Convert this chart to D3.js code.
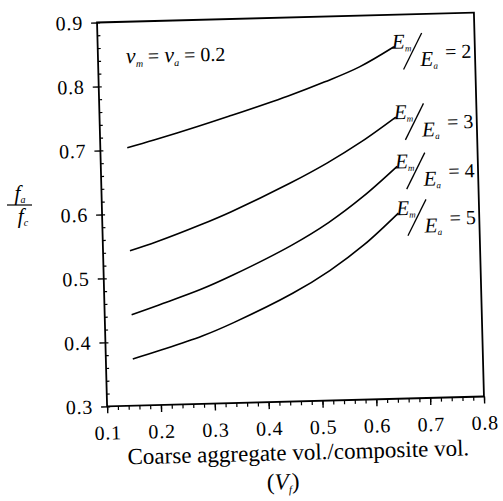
<!DOCTYPE html>
<html><head><meta charset="utf-8">
<script src="https://cdn.jsdelivr.net/npm/d3@7"></script>
<style>
body{margin:0;background:#fff}
svg{display:block}
</style></head><body>
<script>
// ---- data ----
const xTickValues = [0.1, 0.2, 0.3, 0.4, 0.5, 0.6, 0.7, 0.8];
const yTickValues = [0.3, 0.4, 0.5, 0.6, 0.7, 0.8, 0.9];
const volFraction = [0.15, 0.2, 0.28, 0.34, 0.45, 0.52, 0.585, 0.65];
const ratio2 = [0.703, 0.714, 0.733, 0.748, 0.777, 0.798, 0.820, 0.850];
const ratio3 = [0.542, 0.555, 0.579, 0.599, 0.641, 0.671, 0.703, 0.740];
const ratio4 = [0.442, 0.456, 0.479, 0.500, 0.544, 0.578, 0.617, 0.663];
const ratio5 = [0.373, 0.385, 0.406, 0.426, 0.469, 0.503, 0.542, 0.590];
const modulusRatios = ["2", "3", "4", "5"];
const seriesValues = [ratio2, ratio3, ratio4, ratio5];

// ---- layout ----
const FONT = '"Liberation Serif", "Times New Roman", serif';
const W = 503, H = 501;
const L = 102, R = 479, T = 17.5, B = 401.5;
const svg = d3.select("body").append("svg").attr("width", W).attr("height", H)
  .attr("font-family", FONT);
svg.append("rect").attr("width", W).attr("height", H).attr("fill", "#fff");
const g = svg.append("g").attr("transform", "rotate(-1.5,290.5,209.5)");

const x = d3.scaleLinear().domain([0.1, 0.8]).range([L, R]);
const y = d3.scaleLinear().domain([0.3, 0.9]).range([B, T]);

const xMinor = d3.range(0.1, 0.8001, 0.02).map(v => +v.toFixed(2));
const yMinor = d3.range(0.3, 0.9001, 0.02).map(v => +v.toFixed(2));

g.append("g").attr("transform", `translate(0,${B})`)
  .call(d3.axisBottom(x).tickValues(xMinor).tickSize(4).tickFormat(""))
  .call(a => a.select(".domain").remove())
  .selectAll("line").attr("stroke", "#000").attr("stroke-width", 1.2);

g.append("g").attr("transform", `translate(0,${B})`)
  .call(d3.axisBottom(x).tickValues(xTickValues).tickSize(7).tickPadding(12).tickFormat(d3.format(".1f")))
  .attr("font-family", FONT)
  .call(a => a.select(".domain").remove())
  .call(a => a.selectAll("line").attr("stroke", "#000").attr("stroke-width", 1.4))
  .call(a => a.selectAll("text").attr("font-size", 20).attr("letter-spacing", 0.8).attr("fill", "#000"));

g.append("g").attr("transform", `translate(${L},0)`)
  .call(d3.axisLeft(y).tickValues(yMinor).tickSize(-3).tickFormat(""))
  .call(a => a.select(".domain").remove())
  .selectAll("line").attr("stroke", "#000").attr("stroke-width", 1.2);

g.append("g").attr("transform", `translate(${L},0)`)
  .call(d3.axisLeft(y).tickValues(yTickValues).tickSize(6).tickPadding(8).tickFormat(d3.format(".1f")))
  .attr("font-family", FONT)
  .call(a => a.select(".domain").remove())
  .call(a => a.selectAll("line").attr("stroke", "#000").attr("stroke-width", 1.4))
  .call(a => a.selectAll("text").attr("font-size", 20).attr("letter-spacing", 0.8).attr("fill", "#000"));

// frame
g.append("rect").attr("x", L).attr("y", T).attr("width", R - L).attr("height", B - T)
  .attr("fill", "none").attr("stroke", "#000").attr("stroke-width", 1.8);

// curves + labels
const line = d3.line().x(d => x(d[0])).y(d => y(d[1])).curve(d3.curveCatmullRom);
seriesValues.forEach((vals, i) => {
  const pts = volFraction.map((v, j) => [v, vals[j]]);
  g.append("path").attr("d", line(pts)).attr("fill", "none")
    .attr("stroke", "#000").attr("stroke-width", 1.6);
  const ex = x(volFraction[volFraction.length - 1]), ey = y(vals[vals.length - 1]);
  const lg = g.append("g").attr("transform", `translate(${ex - 2},${ey})`);
  const t1 = lg.append("text").attr("x", 0).attr("y", 2).attr("font-size", 21).attr("font-style", "italic");
  t1.append("tspan").text("E");
  t1.append("tspan").attr("font-size", 9).attr("dy", 3).text("m");
  lg.append("line").attr("x1", 11).attr("y1", 23).attr("x2", 30).attr("y2", -13)
    .attr("stroke", "#000").attr("stroke-width", 1.3);
  const t2 = lg.append("text").attr("x", 28).attr("y", 20).attr("font-size", 21).attr("font-style", "italic");
  t2.append("tspan").text("E");
  t2.append("tspan").attr("font-size", 9).attr("dy", 3).text("a");
  lg.append("text").attr("x", 53).attr("y", 13).attr("font-size", 20).text("= " + modulusRatios[i]);
});

// annotation
const ann = g.append("text").attr("x", 130).attr("y", 59).attr("font-size", 20);
ann.append("tspan").attr("font-style", "italic").attr("font-size", 22).text("ν");
ann.append("tspan").attr("font-style", "italic").attr("font-size", 10).attr("dy", 4).text("m");
ann.append("tspan").attr("dy", -4).text(" = ");
ann.append("tspan").attr("font-style", "italic").attr("font-size", 22).text("ν");
ann.append("tspan").attr("font-style", "italic").attr("font-size", 10).attr("dy", 4).text("a");
ann.append("tspan").attr("dy", -4).text(" = 0.2");

// x title
g.append("text").attr("x", 292).attr("y", 460).attr("text-anchor", "middle")
  .attr("font-size", 23).text("Coarse aggregate vol./composite vol.");
const vf = g.append("text").attr("x", 276).attr("y", 489).attr("text-anchor", "middle").attr("font-size", 23);
vf.append("tspan").text("(");
vf.append("tspan").attr("font-style", "italic").text("V");
vf.append("tspan").attr("font-style", "italic").attr("font-size", 11).attr("dy", 4).text("f");
vf.append("tspan").attr("dy", -4).text(")");

// y title (fraction)
const yl = svg.append("g").attr("transform", "translate(20,205)");
const fa = yl.append("text").attr("x", 0).attr("y", -5).attr("text-anchor", "middle").attr("font-size", 21).attr("font-style", "italic");
fa.append("tspan").text("f");
fa.append("tspan").attr("font-size", 10).attr("dy", 3).text("a");
yl.append("line").attr("x1", -13).attr("x2", 12).attr("y1", 0).attr("y2", 0).attr("stroke", "#000").attr("stroke-width", 1.2);
const fc = yl.append("text").attr("x", 3).attr("y", 18).attr("text-anchor", "middle").attr("font-size", 21).attr("font-style", "italic");
fc.append("tspan").text("f");
fc.append("tspan").attr("font-size", 10).attr("dy", 3).text("c");
</script>
</body></html>
